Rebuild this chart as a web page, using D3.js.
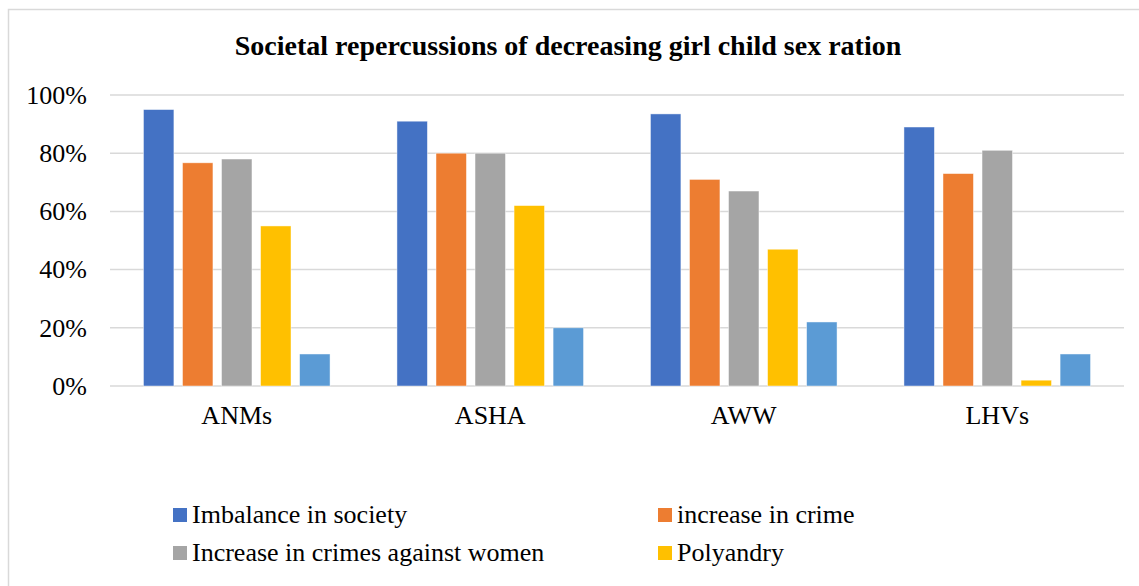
<!DOCTYPE html>
<html>
<head>
<meta charset="utf-8">
<script src="https://cdn.jsdelivr.net/npm/d3@7"></script>
<style>
  body { margin: 0; background: #fff; }
  svg text { font-family: "Liberation Serif", "Times New Roman", serif; fill: #000; }
</style>
</head>
<body>
<script>
var categories = ["ANMs", "ASHA", "AWW", "LHVs"];
var seriesNames = ["Imbalance in society", "increase in crime", "Increase in crimes against women", "Polyandry", "Others"];
var imbalance = [95, 91, 93.5, 89];
var crime = [76.7, 80, 71, 73];
var crimesWomen = [78, 80, 67, 81];
var polyandry = [55, 62, 47, 2];
var others = [11, 20, 22, 11];
var yTicks = [0, 20, 40, 60, 80, 100];
var colors = ["#4472c4", "#ed7d31", "#a5a5a5", "#ffc000", "#5b9bd5"];

var values = [imbalance, crime, crimesWomen, polyandry, others];

var W = 1139, H = 586;
var margin = { top: 95, left: 110 },
  width = 1124 - margin.left,
  height = 386 - margin.top;

var svg = d3.select("body").append("svg").attr("width", W).attr("height", H);

// chart frame (only top and left edges fall inside the picture)
svg.append("path")
  .attr("d", "M8.5,586 V9.5 H1139")
  .attr("fill", "none")
  .attr("stroke", "#d9d9d9")
  .attr("stroke-width", 1.5);

svg.append("text")
  .attr("x", 568)
  .attr("y", 55)
  .attr("text-anchor", "middle")
  .style("font-weight", "bold")
  .style("font-size", "28px")
  .text("Societal repercussions of decreasing girl child sex ration");

var g = svg.append("g").attr("transform", "translate(" + margin.left + "," + margin.top + ")");

var x0 = d3.scaleBand().domain(categories).range([0, width]).paddingInner(0.264).paddingOuter(0.132);
var x1 = d3.scaleBand().domain(d3.range(seriesNames.length)).range([0, x0.bandwidth()]).paddingInner(0.22);
var y = d3.scaleLinear().domain([0, 100]).range([height, 0]);

// gridlines
g.append("g")
  .selectAll("line")
  .data(yTicks)
  .join("line")
  .attr("x1", 0)
  .attr("x2", width)
  .attr("y1", function (d) { return y(d); })
  .attr("y2", function (d) { return y(d); })
  .attr("stroke", "#d9d9d9")
  .attr("stroke-width", 1.5);

var yAxis = d3.axisLeft(y).tickValues(yTicks).tickSize(0).tickPadding(23)
  .tickFormat(function (d) { return d + "%"; });
g.append("g")
  .call(yAxis)
  .call(function (s) { s.select(".domain").remove(); })
  .selectAll("text")
  .style("font-size", "26px");

var xAxis = d3.axisBottom(x0).tickSize(0).tickPadding(20);
g.append("g")
  .attr("transform", "translate(0," + height + ")")
  .call(xAxis)
  .call(function (s) { s.select(".domain").remove(); })
  .selectAll("text")
  .style("font-size", "26px");

var groups = g.selectAll(".cat")
  .data(categories)
  .join("g")
  .attr("class", "cat")
  .attr("transform", function (d) { return "translate(" + x0(d) + ",0)"; });

groups.selectAll("rect")
  .data(function (d, i) {
    return values.map(function (v, k) { return { k: k, v: v[i] }; });
  })
  .join("rect")
  .attr("x", function (d) { return x1(d.k); })
  .attr("width", x1.bandwidth())
  .attr("y", function (d) { return y(d.v); })
  .attr("height", function (d) { return y(0) - y(d.v); })
  .attr("fill", function (d) { return colors[d.k]; })
  .attr("stroke", "#fff")
  .attr("stroke-opacity", 0.6)
  .attr("stroke-width", 0.75);

// legend: two columns; only the first two rows are visible in the reference
var legend = svg.append("g");
var item = legend.selectAll("g")
  .data(seriesNames.slice(0, 4))
  .join("g")
  .attr("transform", function (d, i) {
    return "translate(" + (i % 2 === 0 ? 173 : 658) + "," + (508 + Math.floor(i / 2) * 38) + ")";
  });
item.append("rect")
  .attr("width", 14)
  .attr("height", 14)
  .attr("fill", function (d, i) { return colors[i]; });
item.append("text")
  .attr("x", 19)
  .attr("y", 15)
  .style("font-size", "26px")
  .text(function (d) { return d; });
</script>
</body>
</html>
